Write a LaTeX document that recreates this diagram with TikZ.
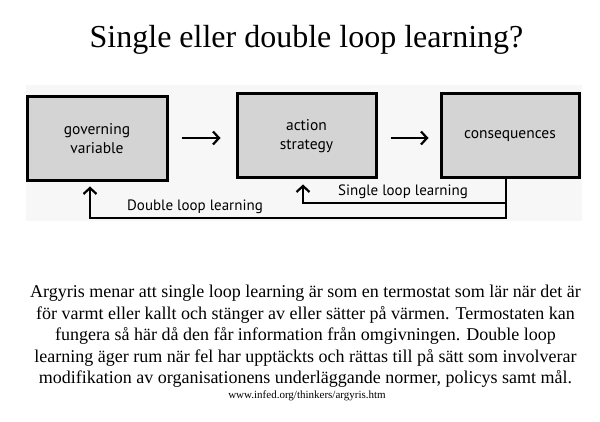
\documentclass[tikz,border=0pt]{standalone}
\usepackage{fontspec}
\setmainfont{Liberation Serif}
\newfontfamily\boxfont{PT Sans}
\usetikzlibrary{arrows.meta}
\tikzset{
  stepbox/.style={draw=black, line width=3pt, fill=black!17, minimum height=84pt, inner sep=0pt, font=\boxfont\fontsize{15.5}{19}\selectfont, align=center},
  arr/.style={line width=2.2pt, -{Straight Barb[length=6pt,width=13pt,line width=2.2pt]}},
  looplabel/.style={font=\boxfont\fontsize{15}{17}\selectfont, inner sep=0pt}
}
\begin{document}
\begin{tikzpicture}[x=1pt,y=-1pt]
\useasboundingbox[fill=white] (0,0) rectangle (600,422);
\fill[black!3] (26,85) rectangle (582,221);
\node[font=\fontsize{32}{36}\selectfont, anchor=base] (title) at (306.5,48) {Single eller double loop learning?};
\node[stepbox, minimum width=140pt] (b1) at (97,139) {governing\\variable};
\node[stepbox, minimum width=139pt] (b2) at (306.5,136) {action\\strategy};
\node[stepbox, minimum width=138pt] (b3) at (510,136) {consequences};
\coordinate (sl) at (303,203);
\coordinate (dl) at (90,218);
\draw[arr, shorten <=13pt, shorten >=15pt] (b1.east |- 0,138) -- (b2.west |- 0,138);
\draw[arr, shorten <=13pt, shorten >=11pt] (b2.east |- 0,138) -- (b3.west |- 0,138);
\draw[arr, shorten >=5pt] ([xshift=-4pt]b3.south) |- (sl) -- (sl |- b2.south);
\draw[arr, shorten >=4pt] ([xshift=-4pt]b3.south) |- (dl) -- (dl |- b1.south);
\node[looplabel] (slab) at (403,192) {Single loop learning};
\node[looplabel] (dlab) at (195,207) {Double loop learning};
\node[anchor=north, align=center, font=\fontsize{18}{21.5}\selectfont, inner sep=0pt] (para) at (305.5,285) {Argyris menar att single loop learning är som en termostat som lär när det är\\för varmt eller kallt och stänger av eller sätter på värmen. Termostaten kan\\fungera så här då den får information från omgivningen. Double loop\\learning äger rum när fel har upptäckts och rättas till på sätt som involverar\\modifikation av organisationens underläggande normer, policys samt mål.};
\node[anchor=base, font=\fontsize{11}{13}\selectfont, inner sep=0pt] (url) at (307,398) {www.infed.org/thinkers/argyris.htm};
\end{tikzpicture}
\end{document}
